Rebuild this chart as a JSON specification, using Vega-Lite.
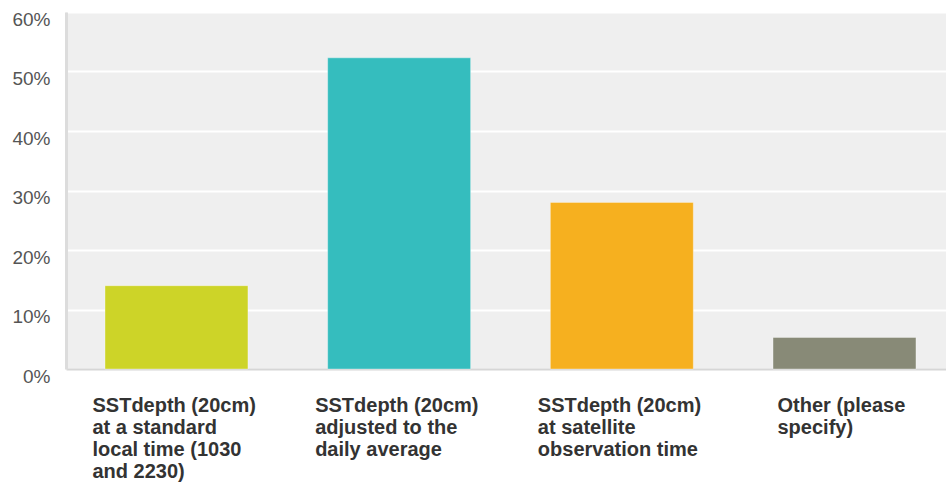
{
  "$schema": "https://vega.github.io/schema/vega-lite/v6.json",
  "autosize": {"type": "none"},
  "width": 880,
  "height": 357,
  "padding": {"left": 66, "top": 12, "right": 0, "bottom": 113},
  "background": "#ffffff",
  "config": {
    "view": {"fill": "#efefef", "stroke": null},
    "font": "Liberation Sans"
  },
  "data": {
    "values": [
      {"answer": "SSTdepth (20cm) at a standard local time (1030 and 2230)", "share": 0.140},
      {"answer": "SSTdepth (20cm) adjusted to the daily average", "share": 0.523},
      {"answer": "SSTdepth (20cm) at satellite observation time", "share": 0.280},
      {"answer": "Other (please specify)", "share": 0.053}
    ]
  },
  "mark": {"type": "bar", "strokeWidth": 1, "stroke": "#ffffff", "strokeOpacity": 0.35},
  "encoding": {
    "x": {
      "field": "answer",
      "type": "nominal",
      "sort": null,
      "title": null,
      "scale": {"paddingInner": 0.358, "paddingOuter": 0.155, "align": 0.565},
      "axis": {
        "labelAngle": 0,
        "ticks": false,
        "domainColor": "#d6d6d6",
        "domainWidth": 2,
        "labelFont": "Liberation Sans",
        "labelFontSize": 20,
        "labelFontWeight": "bold",
        "labelColor": "#333333",
        "labelAlign": "left",
        "labelBaseline": "alphabetic",
        "labelPadding": 42,
        "labelLineHeight": 22,
        "labelLimit": 0,
        "labelOffset": {"condition": {"test": "datum.value == 'Other (please specify)'", "value": -67}, "value": -84},
        "labelExpr": "{'SSTdepth (20cm) at a standard local time (1030 and 2230)': ['SSTdepth (20cm)', 'at a standard', 'local time (1030', 'and 2230)'], 'SSTdepth (20cm) adjusted to the daily average': ['SSTdepth (20cm)', 'adjusted to the', 'daily average'], 'SSTdepth (20cm) at satellite observation time': ['SSTdepth (20cm)', 'at satellite', 'observation time'], 'Other (please specify)': ['Other (please', 'specify)']}[datum.value]"
      }
    },
    "y": {
      "field": "share",
      "type": "quantitative",
      "title": null,
      "scale": {"domain": [0, 0.6], "nice": false},
      "axis": {
        "format": ".0%",
        "values": [0, 0.1, 0.2, 0.3, 0.4, 0.5, 0.6],
        "ticks": false,
        "domainColor": "#dcdcdc",
        "domainWidth": 3,
        "gridColor": "#ffffff",
        "gridWidth": 2,
        "labelFont": "Liberation Sans",
        "labelFontSize": 19,
        "labelColor": "#555555",
        "labelBaseline": "alphabetic",
        "labelOffset": 13,
        "labelPadding": 16
      }
    },
    "color": {
      "field": "answer",
      "type": "nominal",
      "legend": null,
      "scale": {
        "domain": [
          "SSTdepth (20cm) at a standard local time (1030 and 2230)",
          "SSTdepth (20cm) adjusted to the daily average",
          "SSTdepth (20cm) at satellite observation time",
          "Other (please specify)"
        ],
        "range": ["#cdd428", "#35bdbe", "#f6b01f", "#888a77"]
      }
    }
  }
}
